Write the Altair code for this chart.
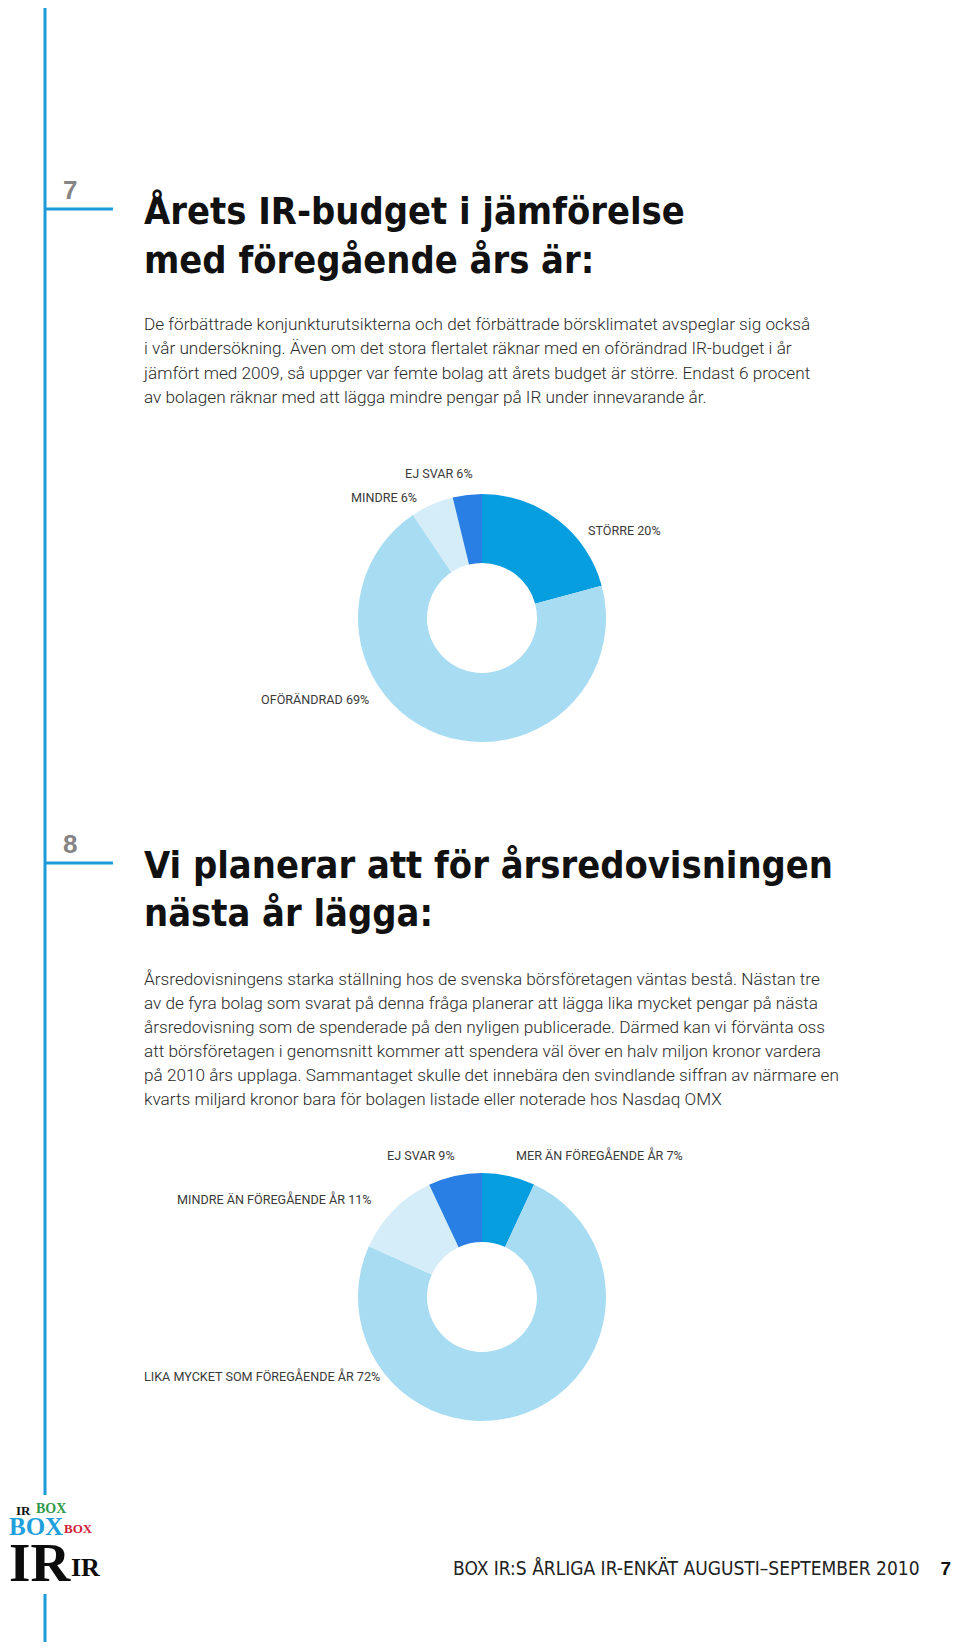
import altair as alt
import pandas as pd

# ---------------- data ----------------
title1_lines = ["Årets IR-budget i jämförelse", "med föregående års är:"]
para1_lines = [
    "De förbättrade konjunkturutsikterna och det förbättrade börsklimatet avspeglar sig också",
    "i vår undersökning. Även om det stora flertalet räknar med en oförändrad IR-budget i år",
    "jämfört med 2009, så uppger var femte bolag att årets budget är större. Endast 6 procent",
    "av bolagen räknar med att lägga mindre pengar på IR under innevarande år.",
]
donut1_categories = ["STÖRRE", "OFÖRÄNDRAD", "MINDRE", "EJ SVAR"]
donut1_label_pct = [20, 69, 6, 6]
donut1_slice_share = [20.8, 69.8, 5.6, 3.8]   # arc sizes as drawn

title2_lines = ["Vi planerar att för årsredovisningen", "nästa år lägga:"]
para2_lines = [
    "Årsredovisningens starka ställning hos de svenska börsföretagen väntas bestå. Nästan tre",
    "av de fyra bolag som svarat på denna fråga planerar att lägga lika mycket pengar på nästa",
    "årsredovisning som de spenderade på den nyligen publicerade. Därmed kan vi förvänta oss",
    "att börsföretagen i genomsnitt kommer att spendera väl över en halv miljon kronor vardera",
    "på 2010 års upplaga. Sammantaget skulle det innebära den svindlande siffran av närmare en",
    "kvarts miljard kronor bara för bolagen listade eller noterade hos Nasdaq OMX",
]
donut2_categories = ["MER ÄN FÖREGÅENDE ÅR", "LIKA MYCKET SOM FÖREGÅENDE ÅR",
                     "MINDRE ÄN FÖREGÅENDE ÅR", "EJ SVAR"]
donut2_label_pct = [7, 72, 11, 9]
donut2_slice_share = [6.9, 74.8, 11.3, 7.0]   # arc sizes as drawn

section_numbers = ["7", "8"]
footer_text = "BOX IR:S ÅRLIGA IR-ENKÄT AUGUSTI–SEPTEMBER 2010"
page_number = "7"
logo_words = ["BOX", "IR", "BOX", "BOX", "IR", "IR"]

# ---------------- style ----------------
PALETTE = ["#079ee0", "#a7dcf3", "#d4edf9", "#2a7fe4"]
RULE_BLUE = "#1d9bd8"
OFF = 8  # page margin
W, H = 944, 1634

COND = "DejaVu Sans Condensed, DejaVu Sans, sans-serif"
BODY = "Roboto, Liberation Sans, sans-serif"
SERIF = "Liberation Serif, DejaVu Serif, serif"


def one():
    return alt.Chart(pd.DataFrame({"k": [0]}))


def txt(text, x, y, size, font=BODY, weight="normal", color="#333333",
        baseline="alphabetic", align="left", line_height=None):
    kw = dict(font=font, fontSize=size, fontWeight=weight, color=color,
              baseline=baseline, align=align)
    if line_height is not None:
        kw["lineBreak"] = "\n"
        kw["lineHeight"] = line_height
    return alt.Chart(pd.DataFrame({"t": [text]})).mark_text(**kw).encode(
        text="t:N", x=alt.value(x - OFF), y=alt.value(y - OFF))


def rule(x1, y1, x2, y2, width=3, color=RULE_BLUE):
    return one().mark_rule(color=color, strokeWidth=width).encode(
        x=alt.value(x1 - OFF), x2=alt.value(x2 - OFF),
        y=alt.value(y1 - OFF), y2=alt.value(y2 - OFF))


def donut(cats, shares, cx, cy):
    df = pd.DataFrame({"cat": cats, "share": shares, "i": range(len(cats))})
    return alt.Chart(df).mark_arc(radius=124, radius2=55).encode(
        theta=alt.Theta("share:Q", stack=True),
        order=alt.Order("i:Q"),
        color=alt.Color("cat:N", scale=alt.Scale(domain=cats, range=PALETTE), legend=None),
        x=alt.value(cx - OFF), y=alt.value(cy - OFF),
    )


def label(cat, pct):
    return f"{cat} {pct}%"


layers = []

# vertical blue rule with gap for logo
layers.append(rule(45, 8, 45, 1495))
layers.append(rule(45, 1594, 45, 1650))

# ---- section 7 ----
layers.append(rule(45, 209, 113, 209))
layers.append(txt(section_numbers[0], 63, 199, 26, font="Liberation Sans", weight="bold", color="#858585"))
layers.append(txt("\n".join(title1_lines), 144, 224, 37.7, font=COND, weight="bold", color="#111111", line_height=49))
layers.append(txt("\n".join(para1_lines), 144, 330, 17.2, font=BODY, weight=300, color="#2a2a2a", line_height=24.4))
layers.append(donut(donut1_categories, donut1_slice_share, 482, 618))
d1_pos = [(588, 531), (261, 700), (351, 498), (405, 474)]
for c, p, (x, y) in zip(donut1_categories, donut1_label_pct, d1_pos):
    layers.append(txt(label(c, p), x, y, 12.6, color="#3a3a3a", baseline="middle"))

# ---- section 8 ----
layers.append(rule(45, 863, 113, 863))
layers.append(txt(section_numbers[1], 63, 853, 26, font="Liberation Sans", weight="bold", color="#858585"))
layers.append(txt("\n".join(title2_lines), 144, 878, 37.7, font=COND, weight="bold", color="#111111", line_height=48))
layers.append(txt("\n".join(para2_lines), 144, 985, 17.2, font=BODY, weight=300, color="#2a2a2a", line_height=24))
layers.append(donut(donut2_categories, donut2_slice_share, 482, 1297))
d2_pos = [(516, 1156), (144, 1377), (177, 1200), (387, 1156)]
for c, p, (x, y) in zip(donut2_categories, donut2_label_pct, d2_pos):
    layers.append(txt(label(c, p), x, y, 12.6, color="#3a3a3a", baseline="middle"))

# ---- footer ----
layers.append(txt(footer_text, 453, 1575, 19, font=COND, weight=300, color="#222222"))
layers.append(txt(page_number, 951, 1575, 19, font="Liberation Sans", weight="bold", color="#111111", align="right"))

# ---- logo ----
layers.append(txt(logo_words[0], 36, 1513, 14, font=SERIF, weight="bold", color="#2e9a48"))
layers.append(txt(logo_words[1], 16, 1515, 13, font=SERIF, weight="bold", color="#111111"))
layers.append(txt(logo_words[2], 9, 1535, 25, font=SERIF, weight="bold", color="#1f9fdc"))
layers.append(txt(logo_words[3], 64, 1533, 13, font=SERIF, weight="bold", color="#d21f3a"))
layers.append(txt(logo_words[4], 9, 1581, 55, font=SERIF, weight="bold", color="#0c0c0c"))
layers.append(txt(logo_words[5], 71, 1576, 26, font=SERIF, weight="bold", color="#0c0c0c"))

chart = alt.layer(*layers).properties(
    width=W, height=H, padding=0, autosize=alt.AutoSizeParams(type="none")
).resolve_scale(theta="independent", color="independent").configure_view(stroke=None)

chart.save("out.html", embed_options={"renderer": "svg", "actions": False})
